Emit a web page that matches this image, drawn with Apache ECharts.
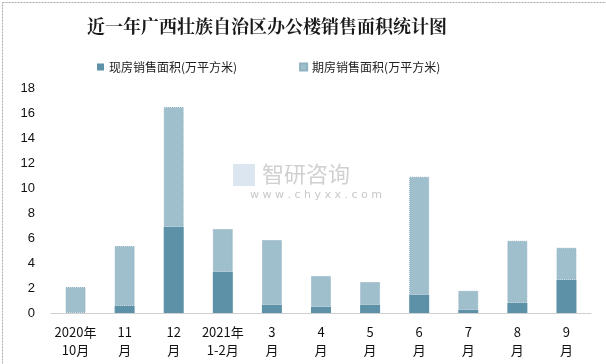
<!DOCTYPE html>
<html><head><meta charset="utf-8">
<script src="https://cdn.jsdelivr.net/npm/echarts@6/dist/echarts.min.js"></script>
<style>html,body{margin:0;padding:0;background:#fff}#c{width:606px;height:364px}</style>
</head><body><div id="c"></div>
<script>
var categories = ['2020年\n10月','11\n月','12\n月','2021年\n1-2月','3\n月','4\n月','5\n月','6\n月','7\n月','8\n月','9\n月'];
var existingArea = [0, 0.56, 6.9, 3.28, 0.64, 0.48, 0.64, 1.44, 0.26, 0.82, 2.66];
var totalArea = [2.08, 5.36, 16.48, 6.72, 5.84, 2.96, 2.48, 10.9, 1.78, 5.78, 5.22];
var futureArea = totalArea.map(function(t, i){ return +(t - existingArea[i]).toFixed(2); });
var yTicks = [0,2,4,6,8,10,12,14,16,18];

var chart = echarts.init(document.getElementById('c'), null, {renderer:'canvas'});
chart.setOption({
  animation:false,
  backgroundColor:'#fff',
  title:{text:'近一年广西壮族自治区办公楼销售面积统计图', left:262, top:12, textAlign:'center',
    textStyle:{fontFamily:'"Noto Serif CJK SC","Noto Sans CJK SC",serif', fontWeight:'bold', fontSize:18, color:'#1a1a1a'}},
  legend:{top:56, left:92, itemGap:62, itemWidth:7, itemHeight:7, icon:'rect',
    textStyle:{fontFamily:'"Noto Sans CJK SC",sans-serif', fontSize:12, color:'#222'},
    data:['现房销售面积(万平方米)','期房销售面积(万平方米)']},
  grid:{left:51, right:15, top:88, bottom:51, containLabel:false},
  xAxis:{type:'category', data:categories,
    axisLine:{lineStyle:{color:'#d0d0d0', width:1}}, axisTick:{show:false},
    axisLabel:{fontFamily:'"Noto Sans CJK SC",sans-serif', fontSize:13, color:'#111', lineHeight:18, margin:10, interval:0}},
  yAxis:{type:'value', min:0, max:18, interval:2,
    splitLine:{show:false}, axisLine:{show:false}, axisTick:{show:false},
    axisLabel:{fontFamily:'"Liberation Sans",sans-serif', fontSize:13, color:'#111', margin:16,
      formatter:function(v){ return yTicks.indexOf(v) >= 0 ? String(v) : ''; }}},
  series:[
    {name:'现房销售面积(万平方米)', type:'bar', stack:'a', barWidth:20, data:existingArea,
      itemStyle:{color:'#5d91a7'}},
    {name:'期房销售面积(万平方米)', type:'bar', stack:'a', barWidth:20, data:futureArea,
      itemStyle:{color:'#9fbfcc', borderColor:'#8fb1c0', borderWidth:1, borderType:'dotted'}}
  ],
  graphic:[
    {type:'rect', left:0, top:0, shape:{width:605, height:363}, style:{fill:'none', stroke:'#aaa', lineWidth:1, lineDash:[2,1]}, silent:true},
    {type:'rect', left:233, top:164, shape:{width:22, height:22}, style:{fill:'#dce6f0'}, silent:true, z:-1},
    {type:'text', left:262, top:163, style:{text:'智研咨询', font:'22px "Noto Sans CJK SC"', fill:'#d0d0d0'}, silent:true},
    {type:'text', left:250, top:190, style:{text:'w w w . c h y x x . c o m', font:'11px "DejaVu Sans"', fill:'#c8c8c8'}, silent:true}
  ]
});
</script></body></html>
